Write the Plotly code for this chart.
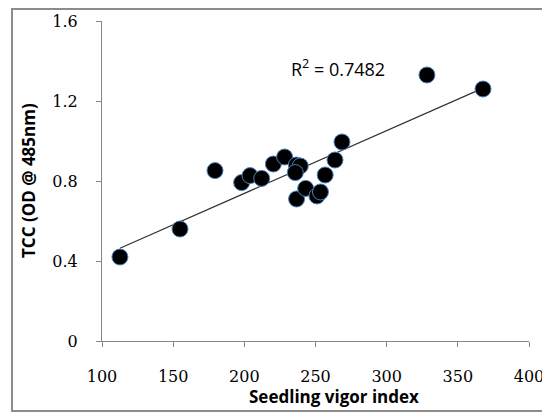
import numpy as np
import plotly.graph_objects as go

# Data
vigor_index = [112.6, 154.8, 179.4, 198.1, 204.0, 212.2, 220.4, 228.3,
               236.5, 239.3, 235.8, 236.7, 243.1, 251.0, 253.5, 256.8,
               263.7, 268.6, 328.3, 367.7]
tcc_od = [0.42, 0.56, 0.852, 0.792, 0.827, 0.813, 0.885, 0.92,
          0.88, 0.875, 0.842, 0.71, 0.763, 0.725, 0.745, 0.83,
          0.905, 0.995, 1.33, 1.26]
x_ticks = [100, 150, 200, 250, 300, 350, 400]
y_ticks = [0, 0.4, 0.8, 1.2, 1.6]
y_tick_labels = ["0", "0.4", "0.8", "1.2", "1.6"]
r2_label = "R<sup>2</sup> = 0.7482"

# Linear trendline (Excel-style, spanning data range)
slope, intercept = np.polyfit(vigor_index, tcc_od, 1)
trend_x = [min(vigor_index), max(vigor_index)]
trend_y = [slope * v + intercept for v in trend_x]

fig = go.Figure()
fig.add_trace(go.Scatter(
    x=trend_x, y=trend_y, mode="lines",
    line=dict(color="#333333", width=1.2), hoverinfo="skip", showlegend=False))
fig.add_trace(go.Scatter(
    x=vigor_index, y=tcc_od, mode="markers",
    marker=dict(size=16, color="black", line=dict(color="#4f81bd", width=1)),
    showlegend=False))

# page body has an 8px margin: target page pixels, figure shifted by OFF
OFF = 8
W, H = 550 - OFF, 412 - OFF
# target plot area in page pixels: x 102..529, y 21..341
L, T = 102 - OFF, 21 - OFF
R, B = W - (529 - OFF), H - (341 - OFF)
pw, ph = W - L - R, H - T - B

def px_x(p):
    return (p - OFF - L) / pw

def px_y(p):
    return (H - B - (p - OFF)) / ph

tick_font = dict(family="DejaVu Serif, serif", size=16, color="black")
axis_common = dict(showline=True, linecolor="#868686", linewidth=1.2,
                   showgrid=False, zeroline=False, ticks="outside",
                   tickcolor="#868686", ticklen=5, tickfont=tick_font,
                   automargin=False)
title_font = dict(family="Open Sans, Liberation Sans, sans-serif", size=17, color="black")

fig.update_layout(
    width=W, height=H,
    margin=dict(l=L, r=R, t=T, b=B, autoexpand=False),
    paper_bgcolor="white", plot_bgcolor="white",
    xaxis=dict(range=[100, 400], tickvals=x_ticks, ticklabelstandoff=16,
               **axis_common),
    yaxis=dict(range=[0, 1.6], tickvals=y_ticks, ticktext=y_tick_labels,
               ticklabelstandoff=15, **axis_common),
    shapes=[dict(type="rect", xref="paper", yref="paper",
                 x0=px_x(12), x1=px_x(549), y0=px_y(411), y1=px_y(9),
                 line=dict(color="#8c8c8c", width=2), layer="below")],
    annotations=[
        dict(text=r2_label, xref="paper", yref="paper",
             x=px_x(338), y=px_y(68), showarrow=False,
             xanchor="center", yanchor="middle",
             font=dict(family="Open Sans, Liberation Sans, sans-serif", size=18, color="black")),
        dict(text="<b>Seedling vigor index</b>", xref="paper", yref="paper",
             x=px_x(334), y=px_y(396), showarrow=False,
             xanchor="center", yanchor="middle", font=title_font),
        dict(text="<b>TCC (OD @ 485nm)</b>", xref="paper", yref="paper",
             x=px_x(28), y=px_y(181), showarrow=False, textangle=-90,
             xanchor="center", yanchor="middle", font=title_font),
    ],
)

fig.write_html("out.html")
